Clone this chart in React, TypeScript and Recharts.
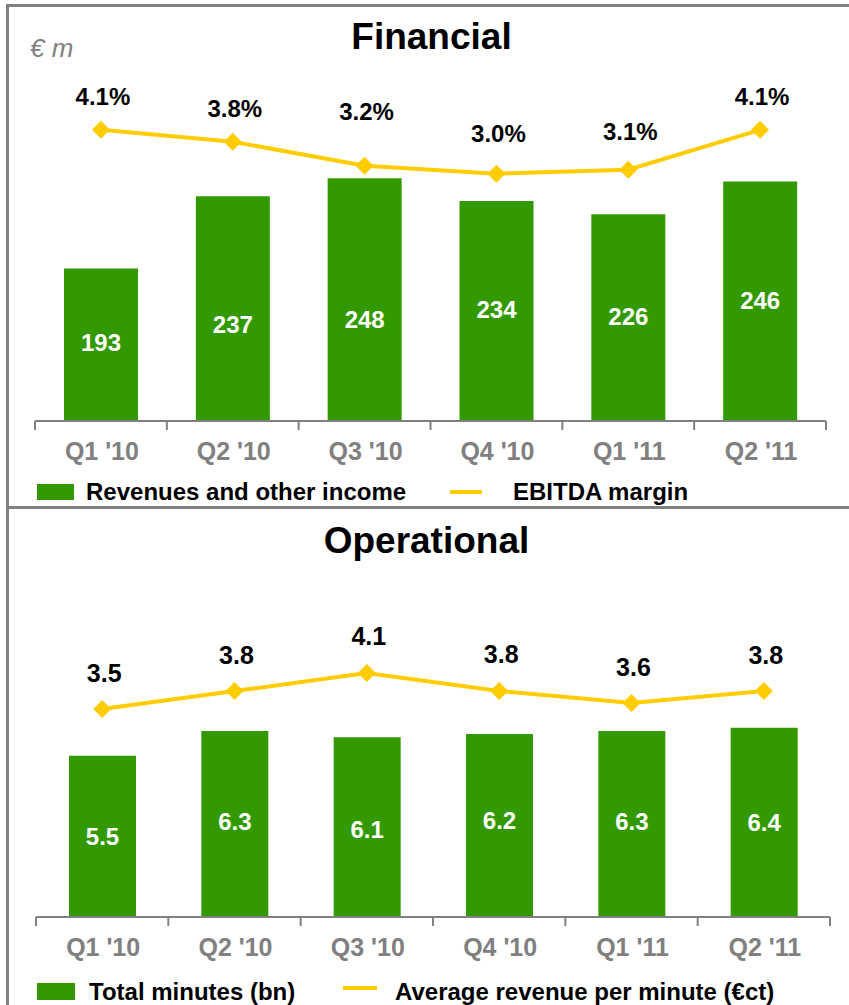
import React from 'react';
import { ComposedChart, Bar, Line, XAxis, YAxis, LabelList } from 'recharts';

// ---------- data ----------
const quarters = ["Q1 '10", "Q2 '10", "Q3 '10", "Q4 '10", "Q1 '11", "Q2 '11"];
const revenues = [193, 237, 248, 234, 226, 246];
const ebitdaMargin = [4.1, 3.8, 3.2, 3.0, 3.1, 4.1];
const totalMinutes = [5.5, 6.3, 6.1, 6.2, 6.3, 6.4];
const avgRevenuePerMinute = [3.5, 3.8, 4.1, 3.8, 3.6, 3.8];

const financialTitle = 'Financial';
const operationalTitle = 'Operational';
const unitLabel = '€ m';
const financialLegend = ['Revenues and other income', 'EBITDA margin'];
const operationalLegend = ['Total minutes (bn)', 'Average revenue per minute (€ct)'];

// ---------- layout tweaks (label nudges, px) ----------
const revLabelShift = [-2, 16, 20, -2, -1, -1];
const marginLabelLift = [33, 33, 54, 40, 38, 33];
const minutesLabelShift = [0, -2, 2, -5, -2, 0];
const arpmLabelLift = [36, 36, 37, 37, 36, 36];

const financialData = quarters.map((q, i) => ({ quarter: q, revenue: revenues[i], margin: ebitdaMargin[i] }));
const operationalData = quarters.map((q, i) => ({ quarter: q, minutes: totalMinutes[i], arpm: avgRevenuePerMinute[i] }));

const GREEN = '#339900';
const YELLOW = '#FFCC00';
const GRAY = '#808080';
const FONT = '"Liberation Sans", Arial, Helvetica, sans-serif';

const CategoryTick = (props: any) => {
  const { x, y, payload, index } = props;
  const half = payload && typeof payload.offset === 'number' && payload.offset > 0 ? payload.offset : 66;
  const count = quarters.length;
  return (
    <g>
      <line x1={x - half} x2={x - half} y1={y} y2={y + 9} stroke={GRAY} strokeWidth={2} />
      {index === count - 1 && (
        <line x1={x + half} x2={x + half} y1={y} y2={y + 9} stroke={GRAY} strokeWidth={2} />
      )}
      <text
        x={x + 1}
        y={y + 30}
        textAnchor="middle"
        dominantBaseline="central"
        fill={GRAY}
        fontFamily={FONT}
        fontWeight="bold"
        fontSize={25}
      >
        {payload.value}
      </text>
    </g>
  );
};

const Diamond = (props: any) => {
  const { cx, cy } = props;
  if (cx == null || cy == null) return null;
  const r = 9;
  return <polygon points={`${cx},${cy - r} ${cx + r},${cy} ${cx},${cy + r} ${cx - r},${cy}`} fill={YELLOW} />;
};

const makeBarLabel = (shifts: number[], fmt: (v: number) => string) => (props: any) => {
  const { x, y, width, height, value, index } = props;
  return (
    <text
      x={x + width / 2}
      y={y + height / 2 + (shifts[index] || 0)}
      textAnchor="middle"
      dominantBaseline="central"
      fill="#ffffff"
      fontFamily={FONT}
      fontWeight="bold"
      fontSize={24}
    >
      {fmt(value)}
    </text>
  );
};

const makeLineLabel = (lifts: number[], fmt: (v: number) => string, size: number) => (props: any) => {
  const { x, y, value, index } = props;
  return (
    <text
      x={x + 2}
      y={y - (lifts[index] || 34)}
      textAnchor="middle"
      dominantBaseline="central"
      fill="#000000"
      fontFamily={FONT}
      fontWeight="bold"
      fontSize={size}
    >
      {fmt(value)}
    </text>
  );
};

const legendText: React.CSSProperties = {
  position: 'absolute',
  fontFamily: FONT,
  fontWeight: 'bold',
  fontSize: 24,
  color: '#000',
  lineHeight: '24px',
  whiteSpace: 'nowrap',
};

export default function App() {
  return (
    <div style={{ position: 'absolute', left: 0, top: 0, width: 849, height: 1005, background: '#fff', overflow: 'hidden' }}>
      {/* frame */}
      <div style={{ position: 'absolute', left: 6, top: 4, width: 843, height: 3, background: GRAY }} />
      <div style={{ position: 'absolute', left: 6, top: 4, width: 3, height: 1001, background: GRAY }} />
      <div style={{ position: 'absolute', left: 6, top: 506, width: 843, height: 3, background: GRAY }} />

      {/* titles */}
      <div style={{ position: 'absolute', left: 0, width: 863, top: 15, textAlign: 'center', fontFamily: FONT, fontWeight: 'bold', fontSize: 37, lineHeight: '44px', color: '#000' }}>
        {financialTitle}
      </div>
      <div style={{ position: 'absolute', left: 30, top: 34, fontFamily: FONT, fontStyle: 'italic', fontSize: 26, lineHeight: '28px', color: GRAY }}>
        {unitLabel}
      </div>
      <div style={{ position: 'absolute', left: 0, width: 853, top: 519, textAlign: 'center', fontFamily: FONT, fontWeight: 'bold', fontSize: 37, lineHeight: '44px', color: '#000' }}>
        {operationalTitle}
      </div>

      {/* Financial chart */}
      <div style={{ position: 'absolute', left: 0, top: 0 }}>
        <ComposedChart width={849} height={470} data={financialData} margin={{ top: 60, right: 23, left: 35, bottom: 9 }}>
          <XAxis
            dataKey="quarter"
            xAxisId="cat"
            height={40}
            axisLine={{ stroke: GRAY, strokeWidth: 2 }}
            tickLine={false}
            tickSize={0}
            tickMargin={0}
            tick={<CategoryTick />}
            interval={0}
          />
          <YAxis yAxisId="rev" hide domain={[100, 320]} allowDataOverflow />
          <YAxis yAxisId="pct" hide domain={[-3.2, 5.85]} allowDataOverflow />
          <Bar dataKey="revenue" xAxisId="cat" yAxisId="rev" fill={GREEN} barSize={74} isAnimationActive={false}>
            <LabelList dataKey="revenue" content={makeBarLabel(revLabelShift, (v) => String(v))} />
          </Bar>
          <Line
            dataKey="margin"
            xAxisId="cat"
            yAxisId="pct"
            type="linear"
            stroke={YELLOW}
            strokeWidth={4}
            dot={<Diamond />}
            activeDot={false}
            isAnimationActive={false}
          >
            <LabelList dataKey="margin" content={makeLineLabel(marginLabelLift, (v) => v.toFixed(1) + '%', 24)} />
          </Line>
        </ComposedChart>
      </div>

      {/* Financial legend */}
      <div style={{ position: 'absolute', left: 37, top: 484, width: 37, height: 16, background: GREEN }} />
      <div style={{ ...legendText, left: 86, top: 480 }}>{financialLegend[0]}</div>
      <div style={{ position: 'absolute', left: 450, top: 490, width: 32, height: 4, background: YELLOW }} />
      <div style={{ ...legendText, left: 513, top: 480 }}>{financialLegend[1]}</div>

      {/* Operational chart */}
      <div style={{ position: 'absolute', left: 0, top: 507 }}>
        <ComposedChart width={849} height={470} data={operationalData} margin={{ top: 60, right: 19, left: 36, bottom: 20 }}>
          <XAxis
            dataKey="quarter"
            xAxisId="cat"
            height={40}
            axisLine={{ stroke: GRAY, strokeWidth: 2 }}
            tickLine={false}
            tickSize={0}
            tickMargin={0}
            tick={<CategoryTick />}
            interval={0}
          />
          <YAxis yAxisId="min" hide domain={[0.32, 11.57]} allowDataOverflow />
          <YAxis yAxisId="ct" hide domain={[0.03, 5.87]} allowDataOverflow />
          <Bar dataKey="minutes" xAxisId="cat" yAxisId="min" fill={GREEN} barSize={67} isAnimationActive={false}>
            <LabelList dataKey="minutes" content={makeBarLabel(minutesLabelShift, (v) => v.toFixed(1))} />
          </Bar>
          <Line
            dataKey="arpm"
            xAxisId="cat"
            yAxisId="ct"
            type="linear"
            stroke={YELLOW}
            strokeWidth={4}
            dot={<Diamond />}
            activeDot={false}
            isAnimationActive={false}
          >
            <LabelList dataKey="arpm" content={makeLineLabel(arpmLabelLift, (v) => v.toFixed(1), 25)} />
          </Line>
        </ComposedChart>
      </div>

      {/* Operational legend */}
      <div style={{ position: 'absolute', left: 37, top: 983, width: 38, height: 17, background: GREEN }} />
      <div style={{ ...legendText, left: 89, top: 980 }}>{operationalLegend[0]}</div>
      <div style={{ position: 'absolute', left: 343, top: 986, width: 34, height: 4, background: YELLOW }} />
      <div style={{ ...legendText, left: 395, top: 980 }}>{operationalLegend[1]}</div>
    </div>
  );
}
